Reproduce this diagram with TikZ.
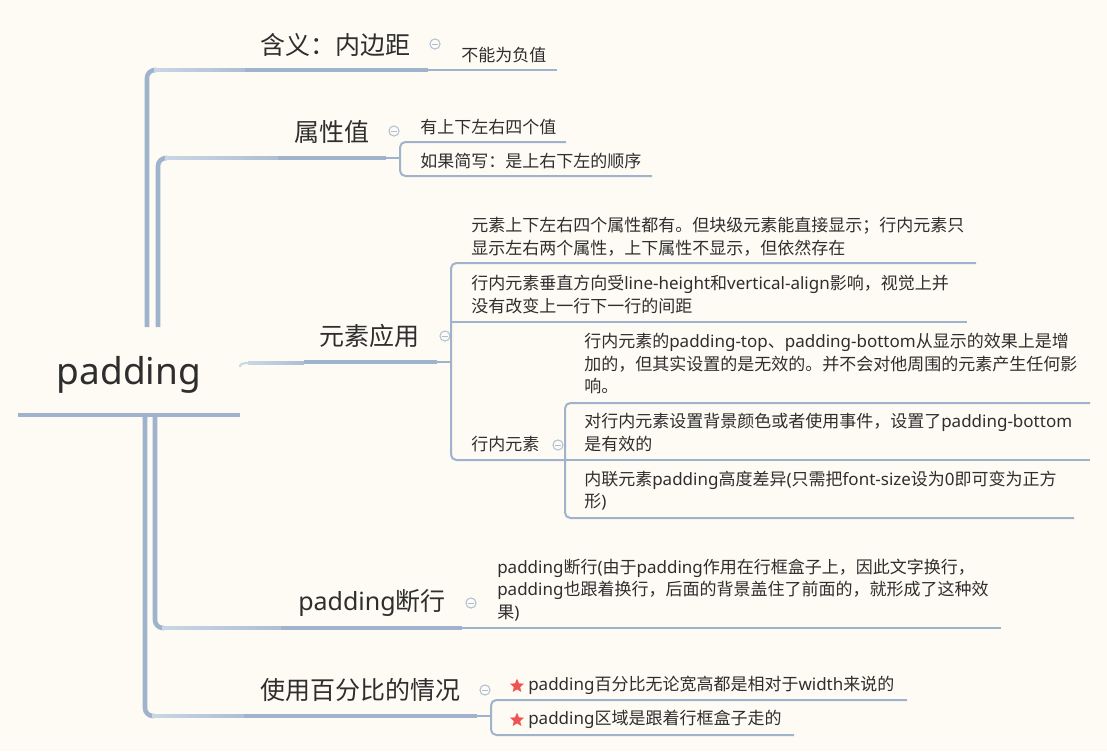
\documentclass[tikz,border=0pt]{standalone}
\usepackage{fontspec}
\setmainfont{Noto Sans CJK SC}
\newfontfamily\latfont{Noto Sans}
\newcommand\Lx[1]{{\latfont #1}}
\usetikzlibrary{shapes.geometric}
\definecolor{bg}{HTML}{FEFBF4}
\definecolor{ln}{HTML}{9FB3CC}
\definecolor{lnlight}{HTML}{CAD6E4}
\definecolor{txt}{HTML}{2E2E2E}
\definecolor{starred}{HTML}{EE5550}
\definecolor{iconc}{HTML}{AEBFD4}
\begin{document}
\begin{tikzpicture}[x=0.75pt,y=-0.75pt,
  bar/.style={draw=ln,line width=3.4pt,rounded corners=6pt},
  uline/.style={draw=ln,line width=2.7pt},
  thinl/.style={draw=ln,line width=1.5pt,rounded corners=4pt},
  rootstyle/.style={text=txt,font=\latfont\fontsize{27.75}{32}\selectfont,inner sep=0},
  title/.style={text=txt,font=\fontsize{18.75}{22}\selectfont,inner sep=0},
  leaf/.style={text=txt,font=\fontsize{12.75}{16.9}\selectfont,inner sep=0,align=left,anchor=west},
  redstar/.style={star,star points=5,star point ratio=2.2,fill=starred,inner sep=0,minimum size=11pt},
  collapse/.pic={\draw[draw=iconc,line width=0.75pt] (0,0) circle[radius=3.8pt];
                 \draw[draw=iconc,line width=0.75pt] (-2.1pt,0) -- (2.1pt,0);}
]
\fill[bg] (0,0) rectangle (1107,751);
\useasboundingbox (0,0) rectangle (1107,751);

% ---------- root ----------
\node[rootstyle,anchor=base] (root) at (129,384) {padding};
\coordinate (rootL) at (18,415);
\coordinate (rootR) at (240,415);
\draw[draw=ln,line width=3.7pt] (rootL) -- (rootR);

% ---------- connectors from root ----------
\draw[bar] (147,327) -- (147,70) -- (156,70);
\shade[left color=lnlight,right color=ln!85] (154,68.8) rectangle (245,71.2);
\draw[bar] (158,327) -- (158,158) -- (167,158);
\shade[left color=lnlight,right color=ln!85] (165,156.8) rectangle (278,159.2);
\draw[draw=lnlight,line width=1.5pt] (240,367) .. controls (240,364) and (242,363) .. (249,363);
\shade[left color=lnlight,right color=ln!85] (248,361.8) rectangle (304,364.2);
\draw[bar] (155,415) -- (155,628) -- (164,628);
\shade[left color=lnlight,right color=ln!85] (162,626.8) rectangle (281,629.2);
\draw[bar] (145,415) -- (145,716) -- (154,716);
\shade[left color=lnlight,right color=ln!85] (152,714.8) rectangle (244,717.2);

% ---------- branch 1 ----------
\node[title] (t1) at (335.5,45) {含义：内边距};
\draw[uline] (245,70) -- (428,70);
\pic at (435,44) {collapse};
\node[leaf] (l11) at (461,55) {不能为负值};
\draw[thinl] (428,70) -- (557,70);

% ---------- branch 2 ----------
\node[title] (t2) at (331.5,132) {属性值};
\draw[uline] (278,158) -- (386,158);
\pic at (394,131) {collapse};
\draw[thinl] (386,158) -- (400,158);
\draw[thinl] (566,142) -- (400,142) -- (400,176) -- (652,176);
\node[leaf] (l21) at (420,127) {有上下左右四个值};
\node[leaf] (l22) at (420,161) {如果简写：是上右下左的顺序};

% ---------- branch 3 ----------
\node[title] (t3) at (369.5,336) {元素应用};
\draw[uline] (304,362) -- (437,362);
\pic at (445,336) {collapse};
\draw[thinl] (437,362) -- (451,362);
\draw[thinl] (976,263) -- (451,263) -- (451,460) -- (565,460);
\draw[thinl] (451,322) -- (967,322);
\node[leaf] (l31) at (471,237) {元素上下左右四个属性都有。但块级元素能直接显示；行内元素只\\显示左右两个属性，上下属性不显示，但依然存在};
\node[leaf] (l32) at (471,294.5) {行内元素垂直方向受\Lx{line-height}和\Lx{vertical-align}影响，视觉上并\\没有改变上一行下一行的间距};
\node[leaf] (l33) at (471,444) {行内元素};
\pic at (558,445) {collapse};
\draw[thinl] (1090,403) -- (565,403) -- (565,518) -- (1074,518);
\draw[thinl] (565,460) -- (1090,460);
\node[leaf] (l331) at (584,363.5) {行内元素的\Lx{padding-top}、\Lx{padding-bottom}从显示的效果上是增\\加的，但其实设置的是无效的。并不会对他周围的元素产生任何影\\响。};
\node[leaf] (l332) at (584,432.5) {对行内元素设置背景颜色或者使用事件，设置了\Lx{padding-bottom}\\是有效的};
\node[leaf] (l333) at (584,490.5) {内联元素\Lx{padding}高度差异\Lx{(}只需把\Lx{font-size}设为\Lx{0}即可变为正方\\形\Lx{)}};

% ---------- branch 4 ----------
\node[title] (t4) at (372,603) {\Lx{padding}断行};
\draw[uline] (281,628) -- (462,628);
\pic at (471,603) {collapse};
\draw[thinl] (462,628) -- (1001,628);
\node[leaf] (l41) at (497,590) {\Lx{padding}断行\Lx{(}由于\Lx{padding}作用在行框盒子上，因此文字换行，\\\Lx{padding}也跟着换行，后面的背景盖住了前面的，就形成了这种效\\果\Lx{)}};

% ---------- branch 5 ----------
\node[title] (t5) at (360.5,690) {使用百分比的情况};
\draw[uline] (244,716) -- (477,716);
\pic at (485,690) {collapse};
\draw[thinl] (477,716) -- (491,716);
\draw[thinl] (907,700) -- (491,700) -- (491,735) -- (794,735);
\node[redstar] (s1) at (517,686) {};
\node[leaf] (l51) at (528,685) {\Lx{padding}百分比无论宽高都是相对于\Lx{width}来说的};
\node[redstar] (s2) at (517,720) {};
\node[leaf] (l52) at (528,719) {\Lx{padding}区域是跟着行框盒子走的};
\end{tikzpicture}
\end{document}
